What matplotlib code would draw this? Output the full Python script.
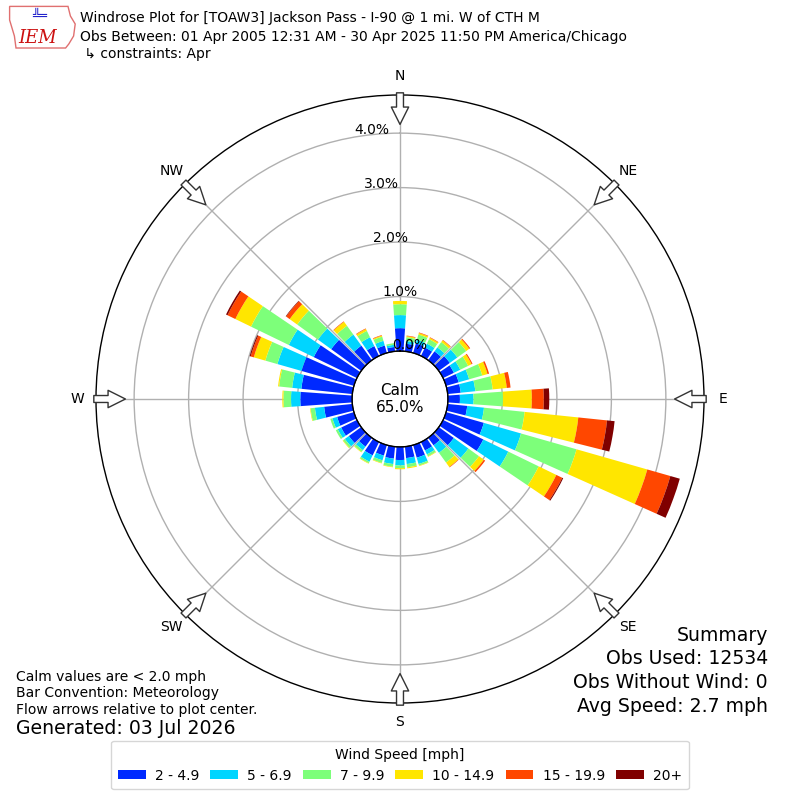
import numpy as np
import matplotlib
matplotlib.use('Agg')
import matplotlib.pyplot as plt
from matplotlib.patches import Polygon

# ---------------- data ----------------
directions = np.arange(0, 360, 10)  # degrees (direction wind blows from)
speed_labels = ['2 - 4.9', '5 - 6.9', '7 - 9.9', '10 - 14.9', '15 - 19.9', '20+']
# frequency (%) per direction for each speed bin
spd_2_5 = [0.42, 0.14, 0.18, 0.17, 0.20, 0.25, 0.22, 0.24, 0.24, 0.22, 0.36, 0.72,
           0.82, 0.34, 0.17, 0.17, 0.24, 0.21, 0.24, 0.22, 0.20, 0.27, 0.20, 0.28,
           0.32, 0.32, 0.52, 0.95, 0.94, 1.00, 0.88, 0.68, 0.33, 0.20, 0.14, 0.08]
spd_5_7 = [0.24, 0.05, 0.07, 0.08, 0.09, 0.17, 0.13, 0.20, 0.27, 0.25, 0.31, 0.71,
           0.51, 0.33, 0.17, 0.08, 0.12, 0.11, 0.10, 0.10, 0.09, 0.13, 0.08, 0.09,
           0.07, 0.09, 0.17, 0.17, 0.17, 0.46, 0.51, 0.30, 0.25, 0.18, 0.09, 0.04]
spd_7_10 = [0.20, 0.07, 0.10, 0.09, 0.12, 0.20, 0.16, 0.25, 0.32, 0.54, 0.75, 1.06,
            0.62, 0.24, 0.22, 0.04, 0.03, 0.06, 0.05, 0.05, 0.05, 0.03, 0.04, 0.04,
            0.04, 0.04, 0.08, 0.14, 0.24, 0.23, 0.77, 0.47, 0.20, 0.13, 0.08, 0.03]
spd_10_15 = [0.06, 0.02, 0.03, 0.03, 0.04, 0.07, 0.07, 0.10, 0.26, 0.53, 0.99, 1.35,
             0.36, 0.11, 0.10, 0.01, 0.01, 0.02, 0.02, 0.01, 0.01, 0.01, 0.01, 0.01,
             0.00, 0.00, 0.01, 0.02, 0.02, 0.22, 0.32, 0.17, 0.09, 0.04, 0.02, 0.00]
spd_15_20 = [0.00, 0.01, 0.01, 0.01, 0.01, 0.02, 0.02, 0.03, 0.07, 0.22, 0.53, 0.44,
             0.12, 0.03, 0.01, 0.00, 0.00, 0.00, 0.00, 0.00, 0.00, 0.00, 0.00, 0.00,
             0.00, 0.00, 0.00, 0.00, 0.00, 0.06, 0.16, 0.08, 0.01, 0.01, 0.01, 0.00]
spd_20p = [0.00, 0.00, 0.00, 0.00, 0.00, 0.00, 0.00, 0.00, 0.00, 0.10, 0.14, 0.18,
           0.02, 0.00, 0.00, 0.00, 0.00, 0.00, 0.00, 0.00, 0.00, 0.00, 0.00, 0.00,
           0.00, 0.00, 0.00, 0.00, 0.00, 0.02, 0.03, 0.01, 0.00, 0.00, 0.00, 0.00]
series = [spd_2_5, spd_5_7, spd_7_10, spd_10_15, spd_15_20, spd_20p]
calm_pct = 65.0
rticks = [0, 1, 2, 3, 4]
compass = ['N', 'NE', 'E', 'SE', 'S', 'SW', 'W', 'NW']
compass_deg = np.arange(0, 360, 45)

# ---------------- figure ----------------
fig = plt.figure(figsize=(8, 8), dpi=100)
ax = fig.add_axes([0.12, 0.12125, 0.76, 0.76], projection='polar')
ax.set_theta_zero_location('N')
ax.set_theta_direction(-1)
rmax = 4.7
ax.set_ylim(0, rmax)
ax.set_rorigin(-0.88)

colors = plt.cm.jet(np.linspace(0, 1, 7)[1:])
theta = np.deg2rad(directions)
width = np.deg2rad(8.2)
bottom = np.zeros(len(directions))
handles = []
for vals, c, lab in zip(series, colors, speed_labels):
    vals = np.asarray(vals)
    b = ax.bar(theta, vals, width=width, bottom=bottom, color=c,
               edgecolor='none', linewidth=0, zorder=3, label=lab)
    handles.append(b)
    bottom = bottom + vals

# grids
ax.set_rgrids(rticks[1:], labels=[''] * 4)
ax.set_thetagrids(compass_deg, labels=compass, fontsize=10)
ax.tick_params(axis='x', pad=3)
ax.grid(True, color='#b0b0b0', linewidth=1)
ax.spines['polar'].set_color('black')
ax.spines['polar'].set_linewidth(1)

# radial labels
for v in rticks:
    offx = 9 - 9.25 * v
    rpx = 48 + 54.5 * v
    th = np.arctan2(offx, rpx)
    ax.text(th, v + (0.12 if v == 0 else 0.08), f'{v:.1f}%', ha='center',
            va='center', fontsize=10, zorder=5)

# calm circle
tt = np.linspace(0, 2 * np.pi, 361)
ax.plot(tt, np.zeros_like(tt), color='black', linewidth=1, zorder=4,
        clip_on=False)
ax.text(0.5, 0.5, f'Calm\n{calm_pct:.1f}%', transform=ax.transAxes,
        ha='center', va='center', fontsize=11, zorder=6)

# flow arrows
for d in compass_deg:
    th = np.deg2rad(d)
    ax.annotate('', xy=(th, 4.16), xytext=(th, 4.74),
                arrowprops=dict(arrowstyle='simple,head_length=1.25,head_width=1.25,tail_width=0.5',
                                fc='white', ec='#333333', lw=1, mutation_scale=10,
                                shrinkA=0, shrinkB=0),
                annotation_clip=False, zorder=6)

# header
fig.text(0.1, 0.9775, 'Windrose Plot for [TOAW3] Jackson Pass - I-90 @ 1 mi. W of CTH M',
         fontsize=10, va='center')
fig.text(0.1, 0.954, 'Obs Between: 01 Apr 2005 12:31 AM - 30 Apr 2025 11:50 PM America/Chicago',
         fontsize=10, va='center')
fig.text(0.1, 0.9325, ' \u21b3 constraints: Apr', fontsize=10, va='center')

# logo (simple)
iowa = Polygon([[0.012, 0.992], [0.085, 0.992], [0.088, 0.98], [0.094, 0.97],
                [0.092, 0.955], [0.086, 0.945], [0.082, 0.94], [0.02, 0.94],
                [0.018, 0.955], [0.012, 0.975]], closed=True, fill=False,
               edgecolor='#e07070', linewidth=1, transform=fig.transFigure)
fig.patches.append(iowa)
fig.text(0.047, 0.952, 'IEM', fontsize=13, color='#cc1111', style='italic',
         family='serif', ha='center', va='center')
fig.text(0.05, 0.979, '\u2569\u2550', fontsize=9, color='#2222cc', ha='center',
         va='center')

# bottom-left notes
fig.text(0.02, 0.154, 'Calm values are < 2.0 mph', fontsize=10, va='center')
fig.text(0.02, 0.134, 'Bar Convention: Meteorology', fontsize=10, va='center')
fig.text(0.02, 0.1125, 'Flow arrows relative to plot center.', fontsize=10, va='center')
fig.text(0.02, 0.089, 'Generated: 03 Jul 2026', fontsize=13.6, va='center')

# summary
for y, s in zip([0.206, 0.1775, 0.1475, 0.1175],
                ['Summary', 'Obs Used: 12534', 'Obs Without Wind: 0',
                 'Avg Speed: 2.7 mph']):
    fig.text(0.96, y, s, fontsize=13.6, ha='right', va='center')

leg = fig.legend(handles, speed_labels, ncol=6, loc='lower center',
                 bbox_to_anchor=(0.5, 0.0045), title='Wind Speed [mph]',
                 fontsize=10, title_fontsize=10, handlelength=2.0,
                 handleheight=0.65, columnspacing=0.8, handletextpad=0.66,
                 borderpad=0.5)

fig.savefig('out.png', dpi=100)
